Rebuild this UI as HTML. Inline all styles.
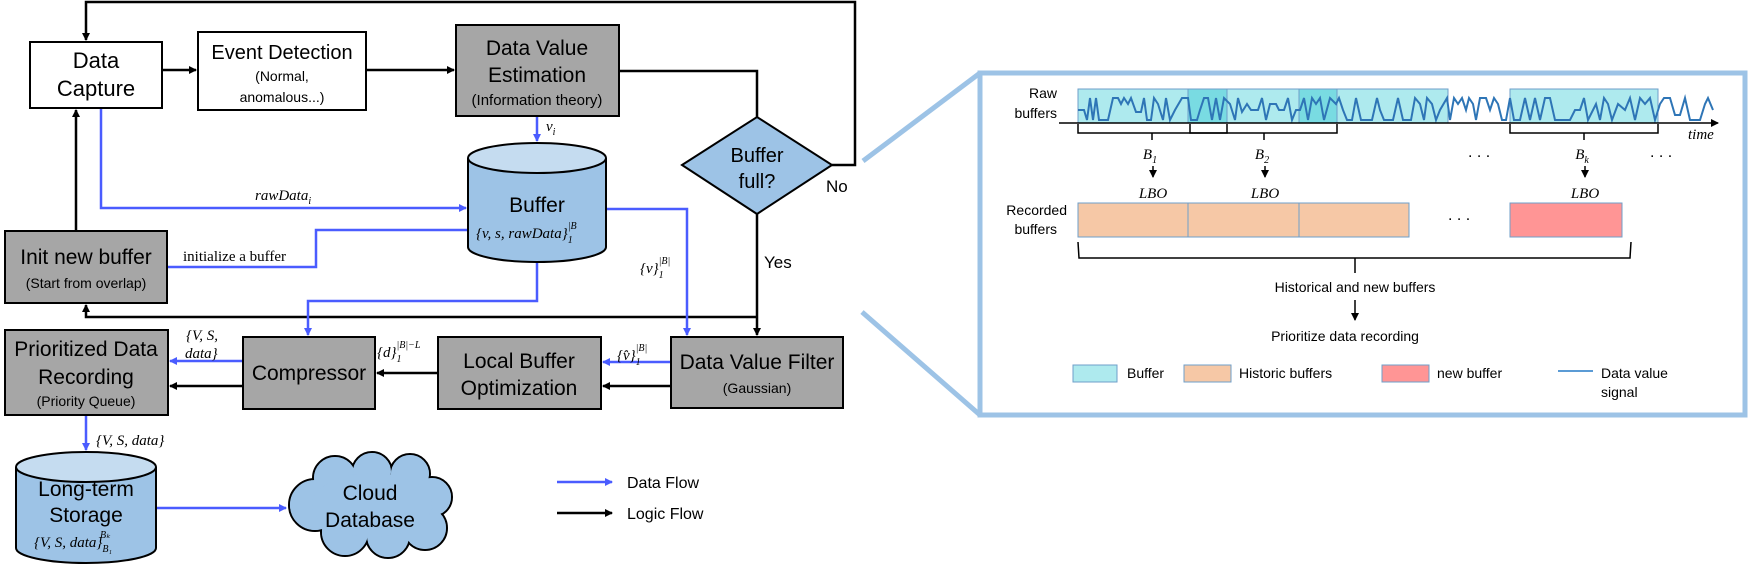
<!DOCTYPE html>
<html><head><meta charset="utf-8"><style>
html,body{margin:0;padding:0;background:#fff;}
svg{display:block;}
.t{font-family:"Liberation Sans Narrow","Liberation Sans",sans-serif;fill:#000;}
.m{font-family:"Liberation Serif",serif;font-style:italic;fill:#000;}
.s{font-family:"Liberation Serif",serif;fill:#000;}
.a{font-family:"Liberation Sans",sans-serif;fill:#000;}
</style></head><body>
<svg width="1748" height="565" viewBox="0 0 1748 565" xmlns="http://www.w3.org/2000/svg">
<defs>
<marker id="bk" markerWidth="8" markerHeight="8" refX="7" refY="4" orient="auto" markerUnits="userSpaceOnUse"><path d="M0,0 L8,4 L0,8 z" fill="#000"/></marker>
<marker id="bl" markerWidth="8" markerHeight="8" refX="7" refY="4" orient="auto" markerUnits="userSpaceOnUse"><path d="M0,0 L8,4 L0,8 z" fill="#4a5cff"/></marker>
<marker id="bs" markerWidth="8" markerHeight="8" refX="7" refY="4" orient="auto" markerUnits="userSpaceOnUse"><path d="M0,0 L8,4 L0,8 z" fill="#000"/></marker>
</defs>

<g stroke="#000" stroke-width="2.5" fill="none">
<polyline points="832,165 855,165 855,2 86,2 86,40" marker-end="url(#bk)"/>
<line x1="162" y1="70" x2="196" y2="70" marker-end="url(#bk)"/>
<line x1="366" y1="70" x2="454" y2="70" marker-end="url(#bk)"/>
<polyline points="619,71 757,71 757,117"/>
<line x1="757" y1="214" x2="757" y2="335" marker-end="url(#bk)"/>
<polyline points="757,317 86,317 86,305" marker-end="url(#bk)"/>
<line x1="76" y1="231" x2="76" y2="110" marker-end="url(#bk)"/>
<line x1="671" y1="386" x2="603" y2="386" marker-end="url(#bk)"/>
<line x1="438" y1="373" x2="377" y2="373" marker-end="url(#bk)"/>
<line x1="243" y1="386" x2="170" y2="386" marker-end="url(#bk)"/>
<line x1="557" y1="513" x2="612" y2="513" marker-end="url(#bk)"/>
</g>
<g stroke="#4a5cff" stroke-width="2.5" fill="none">
<polyline points="101,108 101,208 466,208" marker-end="url(#bl)"/>
<line x1="537" y1="116" x2="537" y2="141" marker-end="url(#bl)"/>
<polyline points="468,230 316,230 316,267 167,267"/>
<polyline points="606,209 687,209 687,335" marker-end="url(#bl)"/>
<polyline points="537,262 537,301 308,301 308,335" marker-end="url(#bl)"/>
<line x1="671" y1="362" x2="603" y2="362" marker-end="url(#bl)"/>
<line x1="243" y1="361" x2="170" y2="361" marker-end="url(#bl)"/>
<line x1="86" y1="415" x2="86" y2="450" marker-end="url(#bl)"/>
<line x1="156" y1="508" x2="286" y2="508" marker-end="url(#bl)"/>
<line x1="557" y1="482" x2="612" y2="482" marker-end="url(#bl)"/>
</g>

<g stroke="#000" stroke-width="2">
<rect x="30" y="42" width="132" height="66" fill="#fff"/>
<rect x="198" y="32" width="168" height="78" fill="#fff"/>
<rect x="456" y="25" width="163" height="91" fill="#a6a6a6"/>
<rect x="5" y="231" width="162" height="72" fill="#a6a6a6"/>
<rect x="5" y="330" width="163" height="85" fill="#a6a6a6"/>
<rect x="243" y="337" width="132" height="72" fill="#a6a6a6"/>
<rect x="438" y="337" width="163" height="72" fill="#a6a6a6"/>
<rect x="671" y="337" width="172" height="71" fill="#a6a6a6"/>
<polygon points="682,165 757,117 832,165 757,214" fill="#9dc3e6"/>
</g>
<g stroke="#000" stroke-width="2">
<path d="M468,158 L468,247 A69,15 0 0 0 606,247 L606,158" fill="#9dc3e6"/>
<ellipse cx="537" cy="158" rx="69" ry="15" fill="#c5dcf0"/>
<path d="M16,467 L16,548 A70,15 0 0 0 156,548 L156,467" fill="#9dc3e6"/>
<ellipse cx="86" cy="467" rx="70" ry="15" fill="#c5dcf0"/>
</g>
<g>
<g stroke="#000" stroke-width="2" fill="#9dc3e6">
<circle cx="315" cy="505" r="26"/><circle cx="335" cy="478" r="22"/><circle cx="372" cy="472" r="20"/><circle cx="410" cy="474" r="20"/><circle cx="432" cy="497" r="20"/><circle cx="425" cy="528" r="22"/><circle cx="388" cy="536" r="22"/><circle cx="345" cy="532" r="24"/>
</g>
<g fill="#9dc3e6">
<circle cx="315" cy="505" r="25"/><circle cx="335" cy="478" r="21"/><circle cx="372" cy="472" r="19"/><circle cx="410" cy="474" r="19"/><circle cx="432" cy="497" r="19"/><circle cx="425" cy="528" r="21"/><circle cx="388" cy="536" r="21"/><circle cx="345" cy="532" r="23"/><ellipse cx="372" cy="505" rx="60" ry="32"/>
</g>
</g>

<g class="t" text-anchor="middle">
<text x="96" y="68" font-size="22">Data</text>
<text x="96" y="96" font-size="22">Capture</text>
<text x="282" y="59" font-size="20">Event Detection</text>
<text x="282" y="81" font-size="14">(Normal,</text>
<text x="282" y="102" font-size="14">anomalous...)</text>
<text x="537" y="55" font-size="21">Data Value</text>
<text x="537" y="82" font-size="21">Estimation</text>
<text x="537" y="105" font-size="15">(Information theory)</text>
<text x="757" y="162" font-size="20">Buffer</text>
<text x="757" y="188" font-size="20">full?</text>
<text x="537" y="212" font-size="21">Buffer</text>
<text x="86" y="264" font-size="21">Init new buffer</text>
<text x="86" y="288" font-size="14">(Start from overlap)</text>
<text x="86" y="356" font-size="21">Prioritized Data</text>
<text x="86" y="384" font-size="21">Recording</text>
<text x="86" y="406" font-size="14">(Priority Queue)</text>
<text x="309" y="380" font-size="21">Compressor</text>
<text x="519" y="368" font-size="21">Local Buffer</text>
<text x="519" y="395" font-size="21">Optimization</text>
<text x="757" y="369" font-size="21">Data Value Filter</text>
<text x="757" y="393" font-size="14">(Gaussian)</text>
<text x="86" y="496" font-size="21">Long-term</text>
<text x="86" y="522" font-size="21">Storage</text>
<text x="370" y="500" font-size="21">Cloud</text>
<text x="370" y="527" font-size="21">Database</text>
</g>
<g class="a" font-size="17">
<text x="826" y="192">No</text>
<text x="764" y="268">Yes</text>
<text x="627" y="488" font-size="16">Data Flow</text>
<text x="627" y="519" font-size="16">Logic Flow</text>
</g>
<g class="m" font-size="15">
<text x="255" y="200">rawData<tspan font-size="10" dy="4">i</tspan></text>
<text x="546" y="131">v<tspan font-size="10" dy="4">i</tspan></text>
<text x="476" y="238">{v, s, rawData}<tspan font-size="10" dy="5">1</tspan><tspan font-size="10" dx="-5" dy="-14">|B</tspan></text>
<text x="640" y="273">{v}<tspan font-size="10" dy="5">1</tspan><tspan font-size="10" dx="-5" dy="-14">|B|</tspan></text>
<text x="617" y="360">{v̂}<tspan font-size="10" dy="5">1</tspan><tspan font-size="10" dx="-5" dy="-14">|B|</tspan></text>
<text x="377" y="357">{d}<tspan font-size="10" dy="5">1</tspan><tspan font-size="10" dx="-5" dy="-14">|B|−L</tspan></text>
<text x="186" y="340">{V, S,</text>
<text x="185" y="358">data}</text>
<text x="96" y="445">{V, S, data}</text>
<text x="34" y="547">{V, S, data}<tspan font-size="10" dy="5">B₁</tspan><tspan font-size="10" dx="-12" dy="-14">Bₖ</tspan></text>
</g>
<text class="s" x="183" y="261" font-size="15">initialize a buffer</text>

<g stroke="#9dc3e6" stroke-width="5" fill="none">
<rect x="980" y="73" width="765" height="342"/>
<line x1="863" y1="161" x2="980" y2="73"/>
<line x1="862" y1="312" x2="980" y2="415"/>
</g>
<g stroke="#6f9fc9" stroke-width="1">
<rect x="1078" y="89" width="370" height="34" fill="#aeeaee"/>
<rect x="1188" y="89" width="39" height="34" fill="#79dbe2"/>
<rect x="1299" y="89" width="38" height="34" fill="#79dbe2"/>
<rect x="1510" y="89" width="148" height="34" fill="#aeeaee"/>
<line x1="1227" y1="89" x2="1227" y2="123"/><line x1="1337" y1="89" x2="1337" y2="123"/>
</g>
<polyline fill="none" stroke="#2e75b6" stroke-width="2" points="1078,110 1084,110 1087,120 1090,98 1093,120 1096,98 1099,120 1108,120 1113,98 1118,98 1121,104 1124,98 1128,104 1131,98 1136,112 1141,112 1144,98 1147,120 1151,120 1154,98 1158,104 1163,120 1166,98 1170,120 1175,110 1182,98 1188,98 1191,120 1197,120 1200,110 1204,98 1208,98 1212,120 1216,98 1220,120 1224,98 1230,104 1235,120 1238,98 1242,112 1247,104 1251,110 1258,110 1262,98 1266,120 1270,104 1276,104 1279,110 1284,110 1288,98 1292,120 1296,110 1300,110 1304,98 1308,120 1312,98 1316,104 1320,98 1324,120 1330,98 1336,104 1339,98 1343,110 1347,120 1352,120 1356,98 1361,120 1372,120 1377,98 1380,110 1384,120 1393,120 1398,98 1403,120 1411,120 1415,98 1420,104 1424,120 1427,98 1432,104 1436,120 1440,110 1447,98 1450,120 1454,98 1458,104 1462,98 1466,110 1469,98 1473,104 1476,120 1480,98 1486,98 1490,110 1494,98 1498,104 1502,120 1506,120 1510,98 1514,120 1520,120 1525,98 1530,120 1535,98 1540,120 1545,98 1550,98 1555,120 1570,120 1575,110 1580,110 1584,98 1588,120 1596,104 1600,120 1604,98 1608,104 1612,120 1618,104 1625,110 1630,98 1635,120 1640,98 1645,104 1650,98 1655,120 1660,104 1664,98 1670,98 1675,115 1680,115 1685,98 1690,120 1700,120 1705,104 1708,98 1713,110"/>
<line x1="1059" y1="123" x2="1718" y2="123" stroke="#000" stroke-width="1.5" marker-end="url(#bs)"/>
<g stroke="#000" stroke-width="1.5" fill="none">
<path d="M1078,124 L1078,133 L1227,133 L1227,124 M1152,133 L1152,140"/>
<path d="M1190,124 L1190,133 L1337,133 L1337,124 M1264,133 L1264,140"/>
<path d="M1510,124 L1510,133 L1658,133 L1658,124 M1584,133 L1584,140"/>
<path d="M1078,242 L1079,258 L1630,258 L1631,242 M1355,258 L1355,273"/>
<line x1="1153" y1="166" x2="1153" y2="177" marker-end="url(#bs)"/>
<line x1="1265" y1="166" x2="1265" y2="177" marker-end="url(#bs)"/>
<line x1="1585" y1="166" x2="1585" y2="177" marker-end="url(#bs)"/>
<line x1="1355" y1="300" x2="1355" y2="320" marker-end="url(#bs)"/>
</g>
<g stroke="#6f9fc9" stroke-width="1">
<rect x="1078" y="203" width="110" height="34" fill="#f6c8a6"/>
<rect x="1188" y="203" width="111" height="34" fill="#f6c8a6"/>
<rect x="1299" y="203" width="110" height="34" fill="#f6c8a6"/>
<rect x="1510" y="203" width="112" height="34" fill="#ff9595"/>
<rect x="1073" y="365" width="44" height="17" fill="#aeeaee"/>
<rect x="1184" y="365" width="47" height="17" fill="#f6c8a6"/>
<rect x="1382" y="365" width="47" height="17" fill="#ff9595"/>
</g>
<line x1="1558" y1="371" x2="1593" y2="371" stroke="#5b9bd5" stroke-width="2"/>
<g class="a" font-size="14">
<text x="1057" y="98" text-anchor="end">Raw</text>
<text x="1057" y="118" text-anchor="end">buffers</text>
<text x="1067" y="215" text-anchor="end">Recorded</text>
<text x="1057" y="234" text-anchor="end">buffers</text>
<text x="1355" y="292" text-anchor="middle">Historical and new buffers</text>
<text x="1345" y="341" text-anchor="middle">Prioritize data recording</text>
<text x="1127" y="378">Buffer</text>
<text x="1239" y="378">Historic buffers</text>
<text x="1437" y="378">new buffer</text>
<text x="1601" y="378">Data value</text>
<text x="1601" y="397">signal</text>
<text x="1468" y="157" font-size="16">. . .</text>
<text x="1650" y="157" font-size="16">. . .</text>
<text x="1448" y="220" font-size="16">. . .</text>
</g>
<g class="m" font-size="15" text-anchor="middle">
<text x="1688" y="139" text-anchor="start">time</text>
<text x="1150" y="159">B<tspan font-size="10" dy="4">1</tspan></text>
<text x="1262" y="159">B<tspan font-size="10" dy="4">2</tspan></text>
<text x="1582" y="159">B<tspan font-size="10" dy="4">k</tspan></text>
<text x="1153" y="198">LBO</text>
<text x="1265" y="198">LBO</text>
<text x="1585" y="198">LBO</text>
</g>
</svg>
</body></html>
